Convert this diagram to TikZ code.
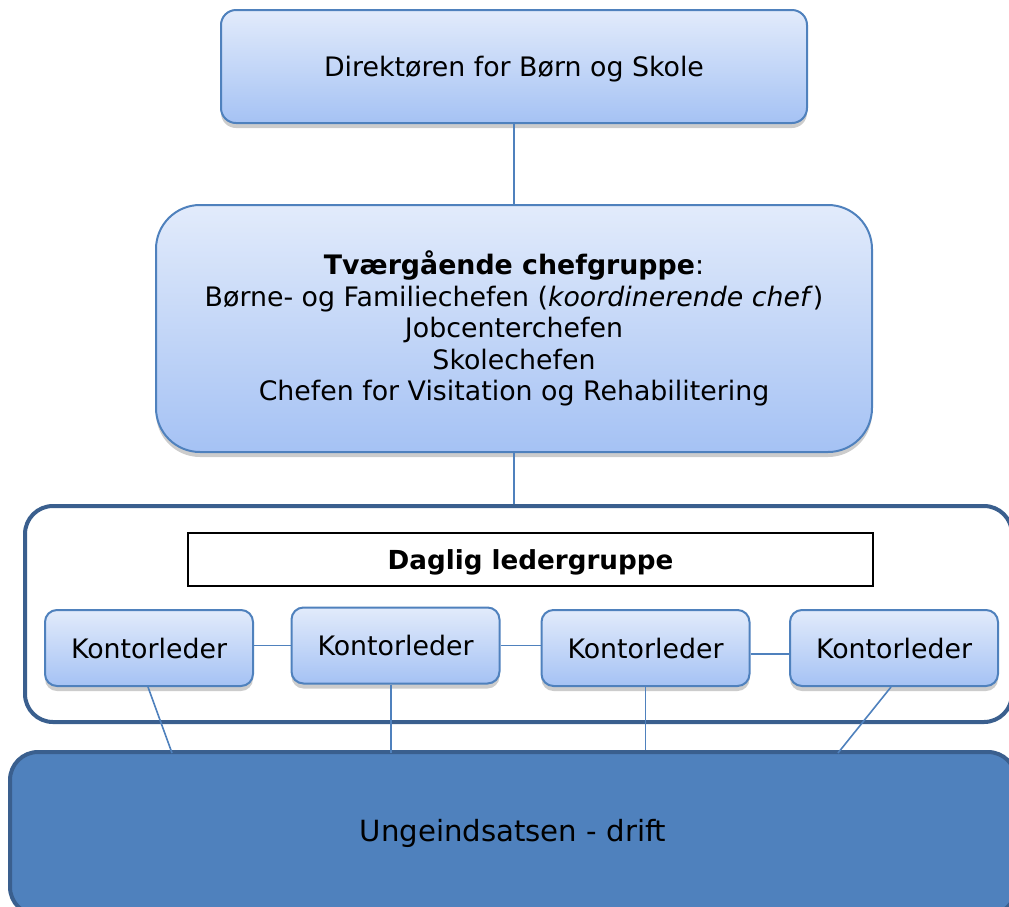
\documentclass[tikz,border=0pt]{standalone}
\usepackage{fontspec}
\setmainfont{DejaVu Sans}
\usetikzlibrary{positioning, shadows}
\definecolor{cline}{HTML}{4F81BD}
\definecolor{cdark}{HTML}{3A5F8E}
\definecolor{ctop}{HTML}{E2EBFB}
\definecolor{cbot}{HTML}{A5C2F4}
\tikzset{
  every picture/.style={font=\fontsize{13.4}{15.75}\selectfont},
  bluebox/.style={draw=cline, line width=1pt, top color=ctop, bottom color=cbot,
    rounded corners=#1, align=center, inner sep=2pt,
    drop shadow={opacity=0.4, shadow xshift=0pt, shadow yshift=-2.5pt}},
  bluebox/.default=7.5pt,
  kbox/.style={bluebox=6pt, minimum width=104pt, minimum height=38pt},
  frame/.style={draw=cdark, line width=2pt, fill=white, rounded corners=14pt},
  link/.style={draw=cline, line width=0.8pt},
}
\begin{document}
\begin{tikzpicture}[x=0.5pt, y=-0.5pt]
  \useasboundingbox (0,0) rectangle (1009,907);
  % top
  \node[bluebox, minimum width=293pt, minimum height=56.5pt, text depth=0pt] (dir) at (514,66.5)
    {Direktøren for Børn og Skole};
  \node[bluebox=22pt, minimum width=358pt, minimum height=123.5pt] (chef) at (514,328.5)
    {\textbf{Tværgående chefgruppe}:\\
     Børne- og Familiechefen (\textit{koordinerende chef})\\
     Jobcenterchefen\\
     Skolechefen\\
     Chefen for Visitation og Rehabilitering};
  % daily group
  \node[frame, minimum width=493.5pt, minimum height=108pt] (daglig) at (518.5,614) {};
  \node[draw=black, line width=0.8pt, fill=white, minimum width=342.5pt, minimum height=26.5pt,
    text depth=0pt, font=\fontsize{13.1}{15.75}\selectfont\bfseries] (leder) at (530.5,559.5)
    {Daglig ledergruppe};
  \node[kbox] (k1) at (149,648) {Kontorleder};
  \node[kbox] (k2) at (395.5,645.5) {Kontorleder};
  \node[kbox] (k3) at (645.5,648) {Kontorleder};
  \node[kbox] (k4) at (894,648) {Kontorleder};
  % bottom
  \node[draw=cdark, line width=2pt, fill=cline, rounded corners=14pt,
    minimum width=503pt, minimum height=81.5pt, font=\fontsize{14.6}{17}\selectfont] (drift) at (513,833.5)
    {Ungeindsatsen - drift};
  \coordinate (d1) at (172,753);
  \coordinate (d2) at (391,753);
  \coordinate (d4) at (838,753);
  % connectors
  \draw[link] (dir.south) -- (chef.north);
  \draw[link] (chef.south) -- (daglig.north -| chef.south);
  \draw[link] (k1.east |- k2.west) -- (k2.west);
  \draw[link] (k2.east) -- (k3.west |- k2.east);
  \draw[link] ([yshift=-3pt]k3.east) -- ([yshift=-3pt]k4.west);
  \draw[link] ([xshift=-0.5pt]k1.south) -- (d1);
  \draw[link] (k2.south -| d2) -- (d2);
  \draw[link] (k3.south) -- (drift.north -| k3.south);
  \draw[link] ([xshift=-1.5pt]k4.south) -- (d4);
\end{tikzpicture}
\end{document}
